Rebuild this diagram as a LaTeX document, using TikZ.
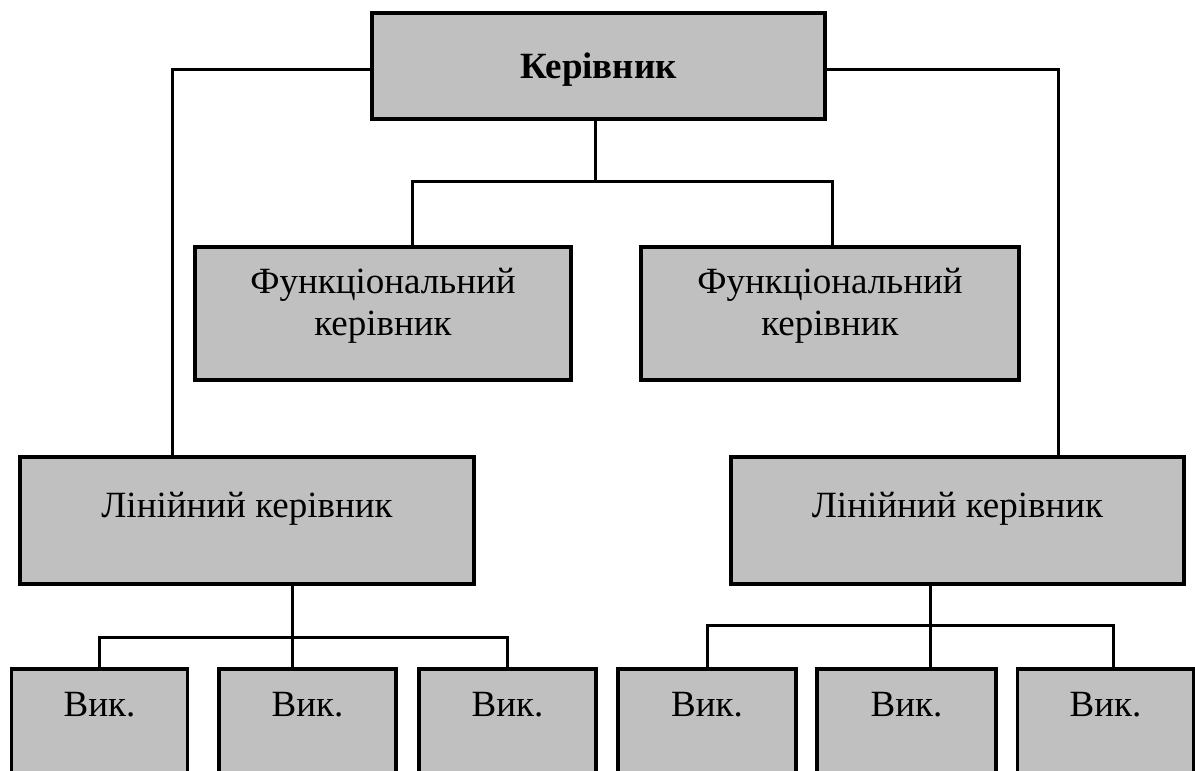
\documentclass[tikz,border=0pt]{standalone}
\usepackage{fontspec}
\setmainfont{Liberation Serif}
\begin{document}
\begin{tikzpicture}[x=1pt,y=-1pt,
  box/.style={draw=black, fill=boxgray, line width=3.5pt, inner sep=0pt, outer sep=0pt},
  lbl/.style={font=\fontsize{37}{42}\selectfont, align=center, inner sep=0pt},
  link/.style={draw=black, line width=3pt}]
\definecolor{boxgray}{HTML}{C0C0C0}
\clip (0,0) rectangle (1195,771);
\useasboundingbox (0,0) rectangle (1195,771);

% head of the organisation
\node[box, minimum width=453pt, minimum height=106pt] (top) at (598.5,66) {};
\node[lbl, font=\fontsize{37}{42}\selectfont\bfseries] (topT) at (598.5,70) {Керівник};

% functional managers
\node[box, minimum width=376pt, minimum height=133pt] (funcL) at (383,313.5) {};
\node[lbl] (funcLT) at (383,306) {Функціональний\\керівник};
\node[box, minimum width=378pt, minimum height=133pt] (funcR) at (830,313.5) {};
\node[lbl] (funcRT) at (830,306) {Функціональний\\керівник};

% line managers
\node[box, minimum width=454pt, minimum height=127pt] (linL) at (247,520.5) {};
\node[lbl] (linLT) at (247,509) {Лінійний керівник};
\node[box, minimum width=453pt, minimum height=127pt] (linR) at (957.5,520.5) {};
\node[lbl] (linRT) at (957.5,509) {Лінійний керівник};

% executors (boxes run past the lower edge)
\foreach \n/\cx/\w in {bL1/99.5/176, bL2/307.5/177, bL3/507.5/177,
                       bR1/707/178, bR2/906.5/179, bR3/1105.5/176}{
  \node[box, minimum width=\w pt, minimum height=200pt, anchor=north] (\n) at (\cx,669) {};
  \node[lbl] (\n T) at (\cx,705) {Вик.};
}

% connectors from the head
\draw[link] ([yshift=-3pt]top.west) -| ([xshift=152pt]linL.north west);
\draw[link] ([yshift=-3pt]top.east) -| ([xshift=-126pt]linR.north east);

\coordinate (j1) at (595,181);
\draw[link] ([xshift=-3.5pt]top.south) -- (j1);
\draw[link] ([xshift=29pt]funcL.north) |- (j1) -| ([xshift=2pt]funcR.north);

% left line manager to executors
\coordinate (j2) at (292,637);
\draw[link] ([xshift=45pt]linL.south) -- ([xshift=-15.5pt]bL2.north);
\draw[link] (bL1.north) |- (j2) -| (bL3.north);

% right line manager to executors
\coordinate (j3) at (930,625);
\draw[link] ([xshift=-27.5pt]linR.south) -- ([xshift=23.5pt]bR2.north);
\draw[link] (bR1.north) |- (j3) -| ([xshift=7.5pt]bR3.north);
\end{tikzpicture}
\end{document}
